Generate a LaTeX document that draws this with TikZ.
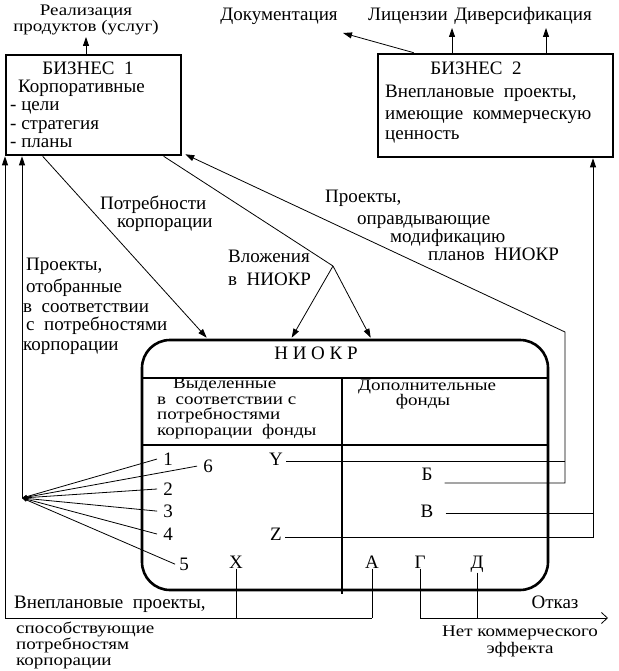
\documentclass[tikz,border=0pt]{standalone}
\usepackage{graphicx}
\usepackage{fontspec}
\setmainfont{Liberation Serif}
\usetikzlibrary{arrows.meta}
\newcommand{\sqz}[1]{\scalebox{1}[0.85]{#1}}
\begin{document}
\begin{tikzpicture}[x=1pt,y=-1pt,font=\fontsize{19}{21}\selectfont,
  box/.style={draw,line width=2.6pt},
  ln/.style={line width=0.8pt},
  arr/.style={ln,-{Triangle[length=9pt,width=6pt]}},
  farr/.style={ln,-{Triangle[length=5pt,width=3.5pt]}},
  oarr/.style={ln,-{Straight Barb[length=6pt,width=11pt]}},
  t/.style={inner sep=0pt,anchor=mid west},
  tc/.style={inner sep=0pt,anchor=mid}]
\useasboundingbox (0,0) rectangle (618,671);
% boxes
\node[box,minimum width=175pt,minimum height=100pt,inner sep=0pt] (b1) at (93.5,105) {};
\node[box,minimum width=235pt,minimum height=103pt,inner sep=0pt] (b2) at (495.5,105.5) {};
\node[box,rounded corners=28pt,minimum width=406pt,minimum height=250pt,inner sep=0pt] (nk) at (345,465) {};
\draw[box] (142,378) -- (548,378);
\draw[box] (142,445) -- (548,445);
\draw[box] (342,378) -- (342,594);
% box 1 text
\node[tc] (b1t) at (88,72) {БИЗНЕС\ \ 1};
\node[t] (b1a) at (18,90) {Корпоративные};
\node[t] (b1b) at (10,108) {- цели};
\node[t] (b1c) at (10,127) {- стратегия};
\node[t] (b1d) at (10,145) {- планы};
% box 2 text
\node[tc] (b2t) at (476,72) {БИЗНЕС\ \ 2};
\node[t] (b2a) at (385,95) {Внеплановые\ \ проекты,};
\node[t] (b2b) at (385,117) {имеющие\ \ коммерческую};
\node[t] (b2c) at (385,137) {ценность};
% top labels
\node[tc] (re1) at (86,13) {\sqz{Реализация}};
\node[tc] (re2) at (86,29) {\sqz{продуктов (услуг)}};
\node[tc] (doc) at (279,18) {Документация};
\node[tc] (lic) at (408,18) {Лицензии};
\node[tc] (div) at (523,18) {Диверсификация};
% middle labels
\node[t] (po1) at (100,207) {Потребности};
\node[t] (po2) at (117,225) {корпорации};
\node[t] (vl1) at (228,260) {Вложения};
\node[t] (vl2) at (228,283) {в\ \ НИОКР};
\node[t] (pl1) at (26,268) {Проекты,};
\node[t] (pl2) at (26,290) {отобранные};
\node[t] (pl3) at (23,310) {в\ \ соответствии};
\node[t] (pl4) at (26,328) {с\ \ потребностями};
\node[t] (pl5) at (23,348) {корпорации};
\node[t] (pr1) at (325,200) {Проекты,};
\node[t] (pr2) at (357,222) {оправдывающие};
\node[t] (pr3) at (390,240) {модификацию};
\node[t] (pr4) at (428,258) {планов\ \ НИОКР};
% NIOKR text
\node[tc] (nkt) at (316,357) {Н И О К Р};
\node[t] (c1) at (173,386) {\sqz{Выделенные}};
\node[t] (c2) at (157,402) {\sqz{в\ \ соответствии с}};
\node[t] (c3) at (157,417) {\sqz{потребностями}};
\node[t] (c4) at (157,433) {\sqz{корпорации\ \ фонды}};
\node[t] (d1) at (358,388) {\sqz{Дополнительные}};
\node[tc] (d2) at (423,403) {\sqz{фонды}};
\node[tc] (n1) at (168,463) {1};
\node[tc] (n6) at (208,470) {6};
\node[tc] (n2) at (168,493) {2};
\node[tc] (n3) at (168,515) {3};
\node[tc] (n4) at (168,538) {4};
\node[tc] (n5) at (184,568) {5};
\node[tc] (nX) at (236,566) {X};
\node[tc] (nY) at (276,463) {Y};
\node[tc] (nZ) at (276,538) {Z};
\node[tc] (nB) at (427,478) {Б};
\node[tc] (nV) at (427,515) {В};
\node[tc] (nA) at (372,566) {А};
\node[tc] (nG) at (420,566) {Г};
\node[tc] (nD) at (477,566) {Д};
% bottom labels
\node[t] (vn1) at (14,606) {Внеплановые\ \ проекты,};
\node[t] (vn2) at (16,631) {\sqz{способствующие}};
\node[t] (vn3) at (16,647) {\sqz{потребностям}};
\node[t] (vn4) at (16,663) {\sqz{корпорации}};
\node[tc] (otk) at (555,606) {Отказ};
\node[tc] (ne1) at (520,634) {\sqz{Нет коммерческого}};
\node[tc] (ne2) at (520,651) {\sqz{эффекта}};
% coordinates
\coordinate (realz) at (86,37);
\coordinate (docA) at (343,33);
\coordinate (licA) at (452,28);
\coordinate (divA) at (546,28);
\coordinate (sp) at (333,266);
\coordinate (fan) at (22,498);
\coordinate (yr) at (565,461);
\coordinate (br) at (565,483);
\coordinate (bt) at (565,332);
\coordinate (vr) at (594,513);
\coordinate (zr) at (593,537);
\coordinate (lb) at (5,618);
\coordinate (xb) at (236,618);
\coordinate (ab) at (372,618);
\coordinate (gb) at (420,618);
\coordinate (db) at (477,618);
\coordinate (otkA) at (608,618);
\coordinate (ys) at ([xshift=3pt]nY.east);
\coordinate (zs) at ([xshift=3pt]nZ.east);
\coordinate (bs) at ([xshift=12pt]nB.east);
\coordinate (vs) at ([xshift=12pt]nV.east);
% connectors
\draw[arr] (b1.north -| realz) -- (realz);
\draw[arr] ([xshift=37pt]b2.north west) -- (docA);
\draw[arr] (b2.north -| licA) -- (licA);
\draw[arr] (b2.north -| divA) -- (divA);
\draw[arr] ([xshift=38pt]b1.south west) -- ([xshift=66pt,yshift=1pt]nk.north west);
\draw[ln] ([xshift=159pt]b1.south west) -- (sp);
\draw[arr] (sp) -- ([xshift=151pt,yshift=1pt]nk.north west);
\draw[arr] (sp) -- ([xshift=230pt,yshift=1pt]nk.north west);
\draw[ln] (ys |- yr) -- (yr);
\draw[arr] (bs |- br) -- (br) -- (bt) -- ([xshift=3pt,yshift=2pt]b1.south east);
\draw[ln] (vs |- vr) -- (vr);
\draw[arr] (zs |- zr) -- (zr) -- (zr |- b2.south);
\draw[arr] (lb) -- (lb |- b1.south);
\draw[ln] (lb) -- (ab);
\draw[ln] (nX.south) -- (xb);
\draw[ln] (nA.south) -- (ab);
\draw[oarr] (nG.south) -- (gb) -- (otkA);
\draw[ln] (nD.south) -- (db);
\foreach \n/\s in {n1/6,n6/6,n2/6,n3/6,n4/6,n5/4}
  \draw[farr] ([xshift=-\s pt]\n.west) -- (fan);
\draw[arr] (fan) -- (fan |- b1.south);
\end{tikzpicture}
\end{document}
